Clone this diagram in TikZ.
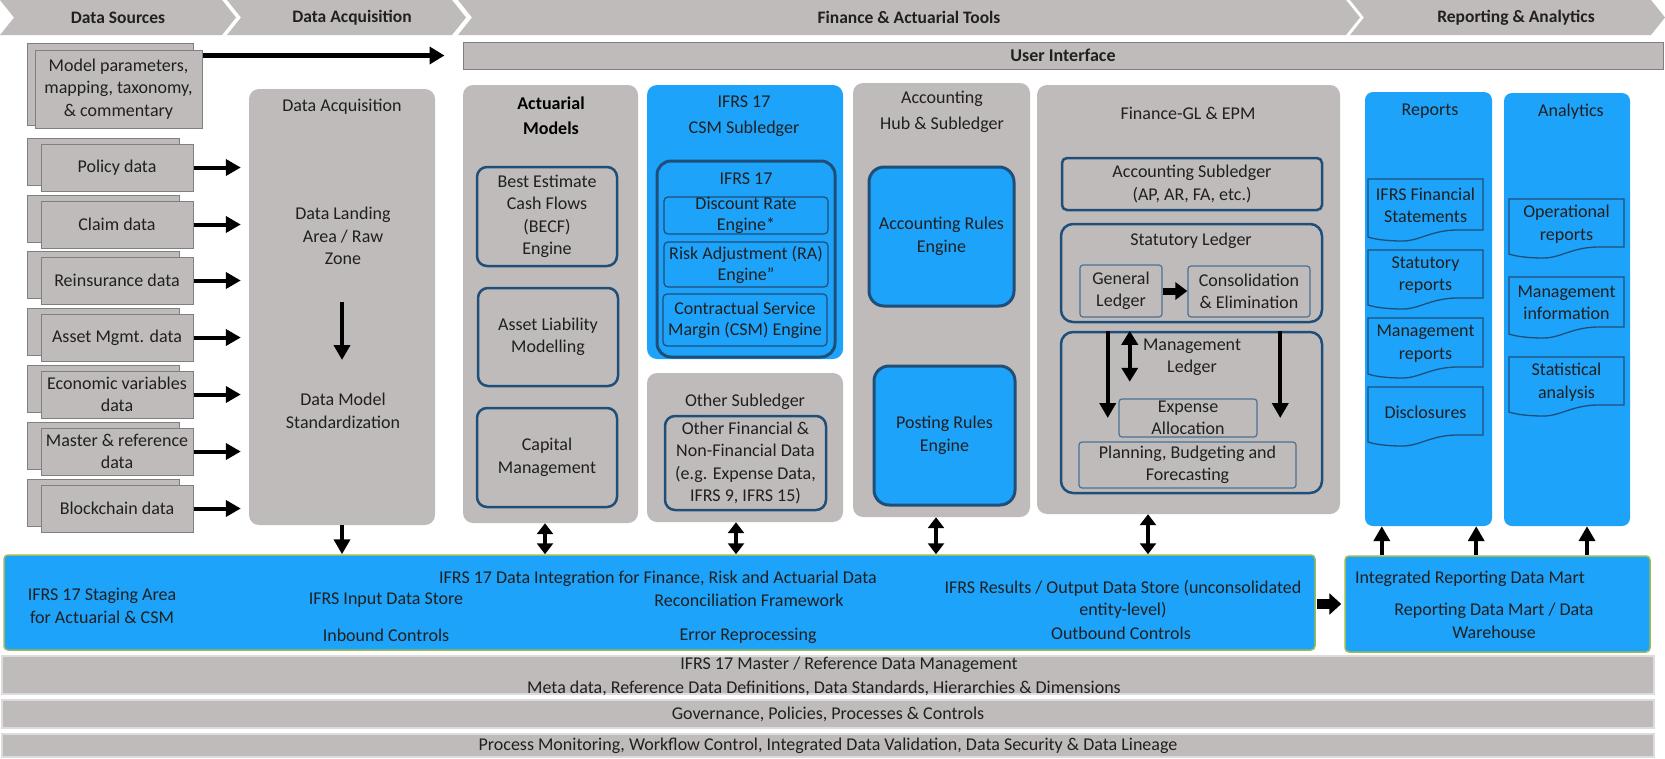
\documentclass[tikz,border=0pt]{standalone}
\usepackage{fontspec}
\setmainfont{Carlito}
\usetikzlibrary{arrows.meta}
\definecolor{gfill}{RGB}{191,187,186}
\definecolor{bfill}{RGB}{29,163,250}
\definecolor{dblue}{RGB}{31,78,121}
\definecolor{txt}{RGB}{32,32,32}
\definecolor{grn}{RGB}{155,187,89}
\definecolor{cardline}{RGB}{128,128,128}
\definecolor{barline}{RGB}{220,220,220}
\newcommand\BX[7]{\node[#2, minimum width={#5-#3}, minimum height={#6-#4}] (#1) at ({(#3+#5)/2},{(#4+#6)/2}) {#7};}
\newcommand\DOC[6]{%
 \draw[docline] (#2,#4) -- (#3,#4) -- (#3,#5) -- ({#2+0.78*(#3-#2)},#5) .. controls ({#2+0.55*(#3-#2)},#5) and ({#2+0.45*(#3-#2)},{#5+11}) .. ({#2+0.3*(#3-#2)},{#5+11}) .. controls ({#2+0.15*(#3-#2)},{#5+11}) and ({#2+0.05*(#3-#2)},{#5+9}) .. (#2,{#5+7}) -- cycle;
 \node (#1) at ({(#2+#3)/2},{(#4+#5)/2+1}) {#6};}
\begin{document}
\begin{tikzpicture}[x=1pt,y=-1pt,
  every node/.style={text=txt, font=\fontsize{18}{22.5}\selectfont, align=center, inner sep=0pt},
  hdr/.style={font=\fontsize{17.5}{20}\selectfont\bfseries},
  card/.style={fill=gfill, draw=cardline, line width=1pt},
  gbox/.style={fill=gfill, rounded corners=10pt},
  bbox/.style={fill=bfill, rounded corners=10pt},
  bbox2/.style={fill=bfill, rounded corners=8pt},
  obox/.style={draw=dblue, line width=2.5pt, rounded corners=10pt},
  ibox/.style={draw=dblue, line width=3pt, rounded corners=14pt},
  tbox/.style={draw=dblue, line width=1.2pt, rounded corners=4pt, font=\fontsize{18}{21}\selectfont},
  tbox2/.style={draw=dblue!80, line width=1.2pt, rounded corners=3pt, font=\fontsize{18}{22}\selectfont},
  ebox/.style={fill=bfill, draw=dblue, line width=3pt, rounded corners=15pt},
  sbox/.style={draw=dblue, line width=2.5pt, rounded corners=5pt},
  lbox/.style={draw=dblue, line width=2.5pt, rounded corners=12pt},
  uibar/.style={fill=gfill, draw=cardline, line width=1pt, font=\fontsize{18}{20}\selectfont\bfseries},
  sbar/.style={fill=bfill, draw=grn, line width=1.5pt, rounded corners=4pt},
  bar/.style={fill=gfill, draw=barline, line width=2pt},
  docline/.style={fill=bfill, draw=dblue, line width=1.3pt},
  bigarrow/.style={line width=4pt, -{Triangle[length=15pt,width=16pt]}},
  dblarrow/.style={line width=4pt, {Triangle[length=11pt,width=16pt]}-{Triangle[length=11pt,width=16pt]}},
  mldbl/.style={line width=4pt, {Triangle[length=14pt,width=16pt]}-{Triangle[length=14pt,width=16pt]}},
  blockarrow/.style={line width=10pt, -{Triangle[length=12pt,width=21pt]}}
]
\useasboundingbox (0,0) rectangle (1665,758);
% header chevrons
\fill[gfill] (0,0) -- (222,0) -- (236,17.5) -- (222,35) -- (0,35) -- (14,17.5) -- cycle;
\fill[gfill] (227,0) -- (452,0) -- (466,17.5) -- (452,35) -- (227,35) -- (241,17.5) -- cycle;
\fill[gfill] (458,0) -- (1346,0) -- (1360,17.5) -- (1346,35) -- (458,35) -- (472,17.5) -- cycle;
\fill[gfill] (1350,0) -- (1651,0) -- (1665,17.5) -- (1651,35) -- (1350,35) -- (1364,17.5) -- cycle;
\node[hdr] (h1) at (118,17.5) {Data Sources};
\node[hdr] (h2) at (352,17.5) {Data Acquisition};
\node[hdr] (h3) at (909,17.5) {Finance \& Actuarial Tools};
\node[hdr] (h4) at (1516,17.5) {Reporting \& Analytics};
% user interface
\BX{ui}{uibar}{463}{42}{1663}{69}{User Interface}
% data sources
\BX{mpb}{card}{27}{43}{193}{125}{}
\BX{mp}{card}{35}{50}{202}{128}{Model parameters,\\mapping, taxonomy,\\\& commentary}
\BX{c1b}{card}{27}{138}{179}{185}{}
\BX{c1}{card}{41}{144}{193}{191}{Policy data}
\BX{c2b}{card}{27}{195}{179}{242}{}
\BX{c2}{card}{41}{201}{193}{248}{Claim data}
\BX{c3b}{card}{27}{251}{179}{298}{}
\BX{c3}{card}{41}{257}{193}{304}{Reinsurance data}
\BX{c4b}{card}{27}{308}{179}{355}{}
\BX{c4}{card}{41}{314}{193}{361}{Asset Mgmt. data}
\BX{c5b}{card}{27}{365}{179}{412}{}
\BX{c5}{card}{41}{371}{193}{418}{Economic variables\\data}
\BX{c6b}{card}{27}{422}{179}{469}{}
\BX{c6}{card}{41}{428}{193}{475}{Master \& reference\\data}
\BX{c7b}{card}{27}{479}{179}{526}{}
\BX{c7}{card}{41}{485}{193}{532}{Blockchain data}
% data acquisition
\BX{da}{gbox}{249}{89}{435}{525}{}
\node (dat) at (342,107) {Data Acquisition};
\node (dl) at (343,236) {Data Landing\\Area / Raw\\Zone};
\node (dmod) at (343,411) {Data Model\\Standardization};
\draw[bigarrow] ([yshift=5pt]da.center) -- ([yshift=-53pt]da.center);
% arrows from sources
\draw[bigarrow, line width=5pt, -{Triangle[length=15pt,width=17pt]}] (mp.east |- ui.west) -- ([xshift=-18pt]ui.west);
\foreach \n in {c1,c2,c3,c4,c5,c6,c7}
  \draw[bigarrow] (\n.east) -- ([xshift=-8pt]da.west |- \n.east);
% actuarial models
\BX{act}{gbox}{463}{85}{638}{523}{}
\node[font=\fontsize{18}{25}\selectfont\bfseries, text=black] (actt) at (551,115.5) {Actuarial\\Models};
\BX{becf}{obox}{477}{167}{617}{266}{Best Estimate\\Cash Flows\\(BECF)\\Engine}
\BX{alm}{obox}{478}{288}{618}{386}{Asset Liability\\Modelling}
\BX{cap}{obox}{477}{408}{617}{507}{Capital\\Management}
% CSM subledger
\BX{csm}{bbox}{647}{85}{843}{359}{}
\node[font=\fontsize{18}{26}\selectfont] (csmt) at (744,116) {IFRS 17\\CSM Subledger};
\BX{ifr}{ibox}{657}{161}{835}{357}{}
\node (ifrt) at (746,179) {IFRS 17};
\BX{dre}{tbox}{664}{197}{828}{234}{Discount Rate\\Engine*}
\BX{ra}{tbox}{664}{242}{828}{287}{Risk Adjustment (RA)\\Engine”}
\BX{csme}{tbox}{663}{294}{827}{346}{Contractual Service\\Margin (CSM) Engine}
% other subledger
\BX{oth}{gbox}{647}{373}{843}{522}{}
\node (otht) at (745,402) {Other Subledger};
\BX{othi}{obox}{665}{416}{826}{510}{Other Financial \&\\Non-Financial Data\\(e.g. Expense Data,\\IFRS 9, IFRS 15)}
% accounting hub
\BX{hub}{gbox}{853}{83}{1030}{517}{}
\node[font=\fontsize{18}{26}\selectfont] (hubt) at (942,112) {Accounting\\Hub \& Subledger};
\BX{are}{ebox}{869}{167}{1014}{306}{Accounting Rules\\Engine}
\BX{pre}{ebox}{874}{366}{1015}{505}{Posting Rules\\Engine}
% finance GL
\BX{fgl}{gbox}{1037}{85}{1340}{514}{}
\node (fglt) at (1188,113) {Finance-GL \& EPM};
\BX{accs}{sbox}{1062}{158}{1322}{210}{Accounting Subledger\\(AP, AR, FA, etc.)}
\BX{stl}{lbox}{1061}{224}{1322}{322}{}
\node (stlt) at (1191,241) {Statutory Ledger};
\BX{gl}{tbox2}{1080}{265}{1162}{317}{General\\Ledger}
\BX{cons}{tbox2}{1188}{266}{1310}{317}{Consolidation\\\& Elimination}
\BX{mgl}{lbox}{1061}{332}{1322}{493}{}
\node (mglt) at (1192,357.5) {Management\\Ledger};
\BX{exp}{tbox2}{1119}{399}{1257}{437}{Expense\\Allocation}
\BX{plan}{tbox2}{1079}{442}{1296}{488}{Planning, Budgeting and\\Forecasting}
\draw[blockarrow, line width=7pt, -{Triangle[length=12pt,width=17pt]}] (gl.east) -- (cons.west |- gl.east);
\draw[bigarrow] ([xshift=48pt]mgl.north west) -- ([xshift=48pt]mgl.north west |- exp.east);
\draw[bigarrow] ([xshift=-43pt]mgl.north east) -- ([xshift=-43pt]mgl.north east |- exp.east);
\draw[mldbl] ([xshift=70pt]mgl.north west) -- ([xshift=70pt,yshift=-51pt]mgl.north west);
% reports & analytics
\BX{rep}{bbox2}{1365}{92}{1492}{526}{}
\node (rept) at (1430,111) {Reports};
\BX{ana}{bbox2}{1504}{93}{1630}{526}{}
\node (anat) at (1571,112) {Analytics};
\DOC{d1}{1368}{1483}{179}{230}{IFRS Financial\\Statements}
\DOC{d2}{1368}{1483}{250}{298}{Statutory\\reports}
\DOC{d3}{1368}{1483}{318}{367}{Management\\reports}
\DOC{d4}{1368}{1483}{387}{435}{Disclosures}
\DOC{a1}{1509}{1624}{199}{247}{Operational\\reports}
\DOC{a2}{1509}{1624}{277}{327}{Management\\information}
\DOC{a3}{1509}{1624}{357}{405}{Statistical\\analysis}
% staging and data mart
\BX{stg}{sbar}{4}{555}{1315}{650}{}
\BX{dmart}{sbar}{1345}{556}{1650}{652}{}
\node (s1) at (102,606) {IFRS 17 Staging Area\\for Actuarial \& CSM};
\node (s2) at (386,600) {IFRS Input Data Store};
\node (s3) at (386,635) {Inbound Controls};
\node (s4) at (658,579) {IFRS 17 Data Integration for Finance, Risk and Actuarial Data};
\node (s5) at (749,600) {Reconciliation Framework};
\node (s6) at (748,636) {Error Reprocessing};
\node (s7) at (1123,599.5) {IFRS Results / Output Data Store (unconsolidated\\entity-level)};
\node (s8) at (1121,633) {Outbound Controls};
\node (m1) at (1470,579) {Integrated Reporting Data Mart};
\node (m2) at (1494,621) {Reporting Data Mart / Data\\Warehouse};
% vertical connectors
\draw[bigarrow] (da.south) -- (da.south |- stg.north);
\draw[dblarrow] ([xshift=-5.5pt]act.south) -- ([xshift=-5.5pt]act.south |- stg.north);
\draw[dblarrow] ([xshift=-9pt]oth.south) -- ([xshift=-9pt]oth.south |- stg.north);
\draw[dblarrow] ([xshift=-5.5pt]hub.south) -- ([xshift=-5.5pt]hub.south |- stg.north);
\draw[dblarrow] ([xshift=-40.5pt]fgl.south) -- ([xshift=-40.5pt]fgl.south |- stg.north);
\draw[bigarrow] ([xshift=17pt]rep.south west |- dmart.north) -- ([xshift=17pt]rep.south west);
\draw[bigarrow] ([xshift=-16pt]rep.south east |- dmart.north) -- ([xshift=-16pt]rep.south east);
\draw[bigarrow] ([xshift=20pt]ana.south |- dmart.north) -- ([xshift=20pt]ana.south);
\draw[blockarrow] ([xshift=1pt,yshift=-1.5pt]stg.east) -- ([xshift=-3pt,yshift=-1.5pt]dmart.west |- stg.east);
% bottom bars
\BX{b1}{bar}{2}{656}{1654}{694}{}
\node (b1a) at (849,665) {IFRS 17 Master / Reference Data Management};
\node (b1b) at (824,688) {Meta data, Reference Data Definitions, Data Standards, Hierarchies \& Dimensions};
\BX{b2}{bar}{2}{700}{1654}{728}{Governance, Policies, Processes \& Controls}
\BX{b3}{bar}{2}{734}{1654}{757}{Process Monitoring, Workflow Control, Integrated Data Validation, Data Security \& Data Lineage}
\end{tikzpicture}
\end{document}
